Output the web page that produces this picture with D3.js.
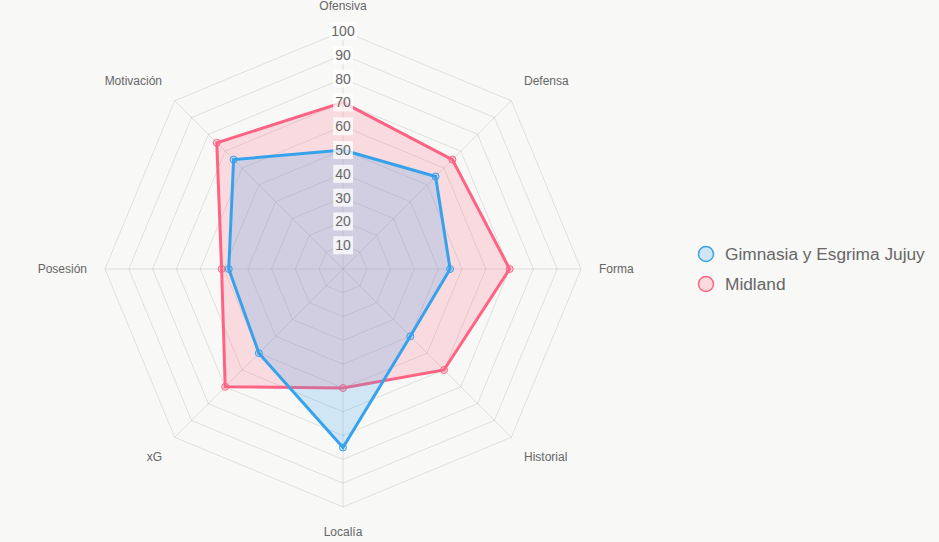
<!DOCTYPE html>
<html>
<head>
<meta charset="utf-8">
<script src="https://cdn.jsdelivr.net/npm/d3@7"></script>
<style>
  html, body { margin: 0; padding: 0; background: #f8f8f7; }
  svg { display: block; font-family: "Liberation Sans", Arial, sans-serif; }
</style>
</head>
<body>
<div id="chart"></div>
<script>
// datos del radar
const categories = ["Ofensiva", "Defensa", "Forma", "Historial", "Localía", "xG", "Posesión", "Motivación"];
const gimnasiaValues = [50, 55, 45, 40, 75, 50, 48, 65];
const midlandValues = [70, 65, 70, 60, 50, 70, 51, 75];
const tickValues = [10, 20, 30, 40, 50, 60, 70, 80, 90, 100];

const series = [
  { name: "Gimnasia y Esgrima Jujuy", values: gimnasiaValues, stroke: "#36a2eb", fill: "rgba(54,162,235,0.2)" },
  { name: "Midland", values: midlandValues, stroke: "#ff6384", fill: "rgba(255,99,132,0.2)" }
];

const W = 939, H = 542;
const cx = 343, cy = 269, R = 238;

const svg = d3.select("#chart").append("svg")
  .attr("width", W).attr("height", H);

svg.append("rect").attr("width", W).attr("height", H).attr("fill", "#f8f8f7");

const r = d3.scaleLinear().domain([0, 100]).range([0, R]);
const angle = d3.scalePoint().domain(categories).range([0, 2 * Math.PI * (categories.length - 1) / categories.length]);

const g = svg.append("g").attr("transform", `translate(${cx},${cy})`);

const px = (cat, v) => Math.sin(angle(cat)) * r(v);
const py = (cat, v) => -Math.cos(angle(cat)) * r(v);

// rejilla (octágonos)
g.append("g").selectAll("path")
  .data(tickValues)
  .join("path")
  .attr("d", t => d3.line()(categories.map(c => [px(c, t), py(c, t)])) + "Z")
  .attr("fill", "none")
  .attr("stroke", "rgba(0,0,0,0.1)")
  .attr("stroke-width", 1);

// líneas de ángulo
g.append("g").selectAll("line")
  .data(categories)
  .join("line")
  .attr("x1", 0).attr("y1", 0)
  .attr("x2", c => px(c, 100)).attr("y2", c => py(c, 100))
  .attr("stroke", "rgba(0,0,0,0.1)");

// series (Midland debajo, Gimnasia encima)
const line = d3.line();
[...series].reverse().forEach(s => {
  const pts = categories.map((c, i) => [px(c, s.values[i]), py(c, s.values[i])]);
  const sg = g.append("g");
  sg.append("path")
    .attr("d", line(pts) + "Z")
    .attr("fill", s.fill)
    .attr("stroke", s.stroke)
    .attr("stroke-width", 3)
    .attr("stroke-linejoin", "miter");
  sg.selectAll("circle")
    .data(pts)
    .join("circle")
    .attr("cx", d => d[0]).attr("cy", d => d[1])
    .attr("r", 3.5)
    .attr("fill", s.fill)
    .attr("stroke", s.stroke)
    .attr("stroke-width", 1);
});

// etiquetas de ticks
const ticks = g.append("g");
tickValues.forEach(t => {
  const tg = ticks.append("g").attr("transform", `translate(0,${-r(t)})`);
  const txt = tg.append("text")
    .attr("text-anchor", "middle")
    .attr("dy", "0.36em")
    .attr("font-size", 14)
    .attr("fill", "#666")
    .text(t);
  const bb = txt.node().getBBox();
  tg.insert("rect", "text")
    .attr("x", bb.x - 2).attr("y", bb.y - 1)
    .attr("width", bb.width + 4).attr("height", bb.height + 2)
    .attr("fill", "rgba(255,255,255,0.75)");
});

// etiquetas de categorías
const labR = R + 18;
g.append("g").selectAll("text")
  .data(categories)
  .join("text")
  .attr("x", c => Math.sin(angle(c)) * labR)
  .attr("y", c => -Math.cos(angle(c)) * labR)
  .attr("text-anchor", c => {
    const s = Math.sin(angle(c));
    return Math.abs(s) < 0.01 ? "middle" : (s > 0 ? "start" : "end");
  })
  .attr("dy", c => {
    const k = Math.cos(angle(c));
    return Math.abs(k) < 0.01 ? "0.35em" : (k > 0 ? "-0.25em" : "0.9em");
  })
  .attr("font-size", 12)
  .attr("fill", "#666")
  .text(c => c);

// leyenda
const legend = svg.append("g").attr("transform", "translate(706,254)");
series.forEach((s, i) => {
  const lg = legend.append("g").attr("transform", `translate(0,${i * 30})`);
  lg.append("circle")
    .attr("r", 7.5)
    .attr("fill", s.fill)
    .attr("stroke", s.stroke)
    .attr("stroke-width", 1.5);
  lg.append("text")
    .attr("x", 19)
    .attr("dy", "0.35em")
    .attr("font-size", 17.3)
    .attr("fill", "#666")
    .text(s.name);
});
</script>
</body>
</html>
